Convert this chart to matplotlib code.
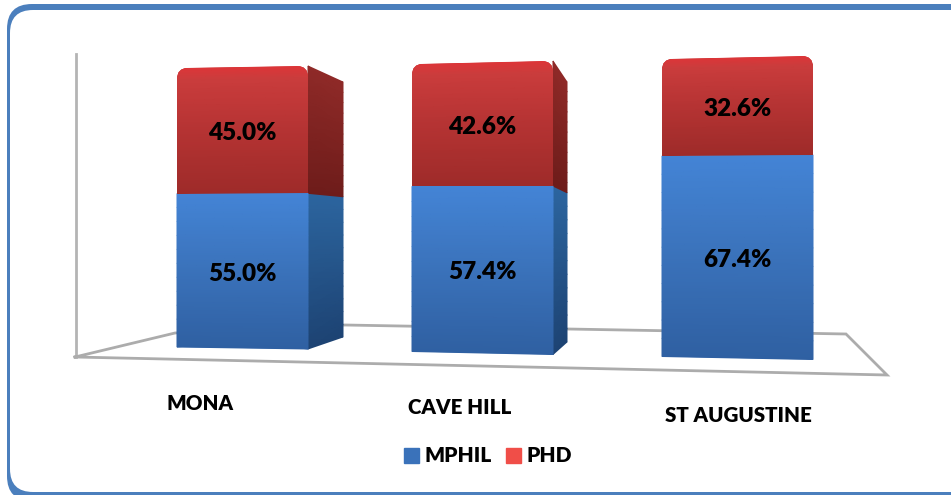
import numpy as np
import matplotlib
matplotlib.use('Agg')
import matplotlib.pyplot as plt
from matplotlib.colors import LinearSegmentedColormap
from matplotlib.patches import FancyBboxPatch, Patch
from matplotlib.path import Path
from matplotlib.transforms import Transform

plt.rcParams['font.family'] = ['Lato', 'DejaVu Sans']

categories = ['MONA', 'CAVE HILL', 'ST AUGUSTINE']
mphil = [55.0, 57.4, 67.4]
phd = [45.0, 42.6, 32.6]

W, H = 951, 495

# where each bar sits in the picture, in pixels
front_left = [177, 412, 662]
front_right = [308, 553, 813]
back_right = [343, 567, 813]
top_y = [67, 62.5, 57.5]
bottom_y = [348, 353, 358]
tilt_px = [2, 3, 3]
back_top_y = [82, 82, 0]
back_bottom_y = [337, 342, 0]
cat_x = [200, 460, 738]
cat_y = [403, 408, 415]

blue_front = LinearSegmentedColormap.from_list('bf', ['#2f60a2', '#3a72ba', '#4484d6'])
red_front = LinearSegmentedColormap.from_list('rf', [(0, '#9e2b29'), (0.5, '#b53333'), (0.93, '#cb3d3d'),
                                                     (1, '#de3538')])
blue_side = LinearSegmentedColormap.from_list('bs', ['#1d4373', '#2c659f'])
red_side = LinearSegmentedColormap.from_list('rs', ['#6e1c1a', '#8f2a28'])


class Fan(Transform):
    # opens the bar slightly towards its right hand side, for the perspective
    input_dims = output_dims = 2

    def __init__(self, tilt):
        super().__init__()
        self.tilt = tilt

    def transform_non_affine(self, xy):
        xy = np.asarray(xy, dtype=float)
        y = xy[:, 1] + self.tilt * (xy[:, 0] - 0.5) * (xy[:, 1] - 50) / 50
        return np.column_stack([xy[:, 0], y])


def rounded_top(b, t, rx, ry):
    verts = [(0, b), (1, b), (1, t - ry), (1, t), (1 - rx, t), (rx, t), (0, t), (0, t - ry), (0, b)]
    codes = [Path.MOVETO, Path.LINETO, Path.LINETO, Path.CURVE3, Path.CURVE3,
             Path.LINETO, Path.CURVE3, Path.CURVE3, Path.CLOSEPOLY]
    return Path(verts, codes)


def gradient(ax, X, Y, cmap, **kw):
    C = np.linspace(0, 1, X.shape[0])[:, None] * np.ones_like(X)
    return ax.pcolormesh(X, Y, C, cmap=cmap, vmin=0, vmax=1, shading='gouraud', **kw)


fig = plt.figure(figsize=(W / 100, H / 100), dpi=100, facecolor='white')

base = fig.add_axes([0, 0, 1, 1])
base.set_xlim(0, W)
base.set_ylim(H, 0)
base.axis('off')

# frame runs off the right side of the picture
base.add_patch(FancyBboxPatch((7 + 25, 4 + 25), 975 - 50, 495 - 4 + 6 - 50,
                              boxstyle='round,pad=25,rounding_size=25', fc='#4b7fbd', ec='none'))
base.add_patch(FancyBboxPatch((10 + 23, 10 + 23), 975 - 46, 482 - 46,
                              boxstyle='round,pad=23,rounding_size=23', fc='white', ec='none'))

# walls and floor
base.plot([76, 76], [54, 357], color='#b4b4b4', lw=2)
base.plot([75, 175, 345, 846, 887, 75], [357, 333, 325, 334, 375, 357],
          color='#acacac', lw=2, solid_joinstyle='miter')

for i in range(len(categories)):
    w = front_right[i] - front_left[i]
    h = bottom_y[i] - top_y[i]
    depth = back_right[i] - front_right[i]
    ax = fig.add_axes([front_left[i] / W, 1 - bottom_y[i] / H, (w + depth) / W, h / H])
    ax.axis('off')
    fan = Fan(tilt_px[i] * 100 / h)
    trans = fan + ax.transData

    # side faces first, front goes over them
    if depth > 0:
        lo = (bottom_y[i] - back_bottom_y[i]) * 100 / h
        hi = (bottom_y[i] - back_top_y[i]) * 100 / h
        for b, t, cmap in [(0, mphil[i], blue_side), (mphil[i], 100, red_side)]:
            n = 12
            vals = np.linspace(b, t, n)
            start = fan.transform(np.column_stack([np.ones(n), vals]))[:, 1]
            end = lo + (hi - lo) * vals / 100
            X = np.column_stack([np.ones(n), np.full(n, 1 + depth / w)])
            Y = np.column_stack([start, end])
            gradient(ax, X, Y, cmap, clip_on=False)

    bars1 = ax.bar(0, mphil[i], width=1, align='edge', color='#3a72ba', clip_on=False)
    bars2 = ax.bar(0, phd[i], width=1, align='edge', bottom=mphil[i], color='#bd3534')
    bars1[0].set_transform(trans)
    bars2[0].set_transform(trans)

    n = 12
    X = np.column_stack([np.zeros(n), np.ones(n)])
    Y = np.linspace(0, mphil[i], n)[:, None] * np.ones((n, 2))
    gradient(ax, X, Y, blue_front, transform=trans, clip_on=False)

    clip = rounded_top(mphil[i], mphil[i] + phd[i], 11 / w, 11 * 100 / h)
    Y = np.linspace(mphil[i], mphil[i] + phd[i], n)[:, None] * np.ones((n, 2))
    mesh = gradient(ax, X, Y, red_front, transform=trans)
    for art in (mesh, bars2[0]):
        art.set_clip_box(None)
        art.set_clip_path(clip, trans)

    ax.set_xlim(0, 1 + depth / w)
    ax.set_ylim(0, 100)

    # labels sit a little under the middle of each block
    ax.annotate(f'{mphil[i]:.1f}%', (0.5, mphil[i] / 2), xytext=(0, -2), textcoords='offset points',
                ha='center', va='center', fontsize=17.5, fontweight='heavy', color='black')
    ax.annotate(f'{phd[i]:.1f}%', (0.5, mphil[i] + phd[i] / 2), xytext=(0, -2), textcoords='offset points',
                ha='center', va='center', fontsize=17.5, fontweight='heavy', color='black')

    base.text(cat_x[i], cat_y[i], categories[i], ha='center', va='center',
              fontsize=14.8, fontweight='heavy', color='black')

handles = [Patch(color='#3a72ba', label='MPHIL'), Patch(color='#f04e48', label='PHD')]
fig.legend(handles=handles, ncol=2, frameon=False, loc='center',
           bbox_to_anchor=(488 / W, 1 - 456 / H), prop={'size': 15, 'weight': 'heavy'},
           handlelength=0.72, handleheight=0.72, handletextpad=0.25, columnspacing=0.72)

fig.savefig('out.png', dpi=100)
